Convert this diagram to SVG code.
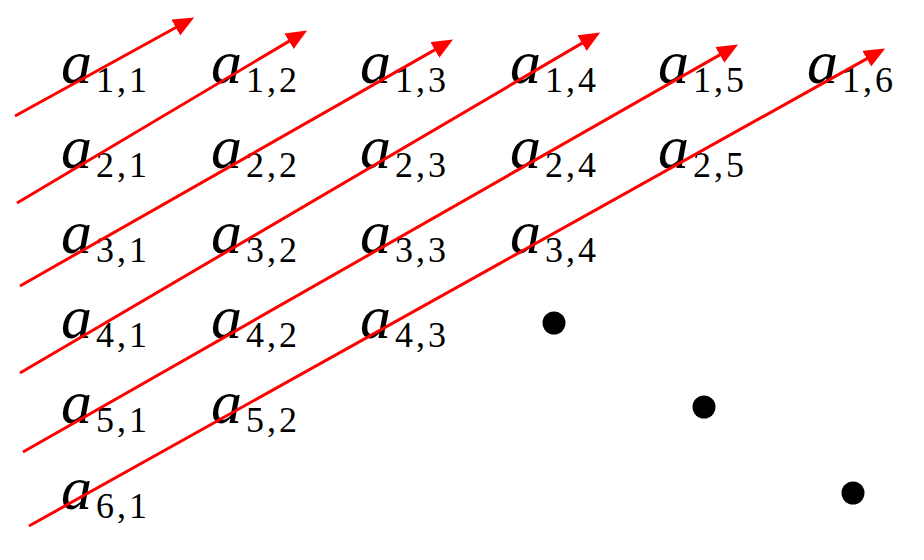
<svg xmlns="http://www.w3.org/2000/svg" width="924" height="560" viewBox="0 0 924 560">
<style>
.a{font-family:"Liberation Serif","Times New Roman",serif;font-style:italic;font-size:62px;fill:#000}
.s{font-family:"Liberation Serif","Times New Roman",serif;font-size:36px;fill:#000}
.arr{stroke:#ff0000;stroke-width:3;fill:none;marker-end:url(#ah)}
.dot{fill:#000}
</style>
<defs>
<marker id="ah" markerUnits="userSpaceOnUse" markerWidth="24" markerHeight="20" refX="11" refY="9" orient="auto" viewBox="0 0 24 20">
<path d="M0,0 L21,9 L0,18 z" fill="#ff0000"/>
</marker>
</defs>
<g id="n11"><text class="a" x="61" y="83">a</text><text class="s" x="96" y="92" textLength="51" lengthAdjust="spacing">1,1</text></g>
<g id="n12"><text class="a" x="211" y="83">a</text><text class="s" x="246" y="92" textLength="51" lengthAdjust="spacing">1,2</text></g>
<g id="n13"><text class="a" x="360" y="83">a</text><text class="s" x="395" y="92" textLength="51" lengthAdjust="spacing">1,3</text></g>
<g id="n14"><text class="a" x="510" y="83">a</text><text class="s" x="545" y="92" textLength="51" lengthAdjust="spacing">1,4</text></g>
<g id="n15"><text class="a" x="658" y="83">a</text><text class="s" x="693" y="92" textLength="51" lengthAdjust="spacing">1,5</text></g>
<g id="n16"><text class="a" x="807" y="83">a</text><text class="s" x="842" y="92" textLength="51" lengthAdjust="spacing">1,6</text></g>
<g id="n21"><text class="a" x="61" y="168">a</text><text class="s" x="96" y="177" textLength="51" lengthAdjust="spacing">2,1</text></g>
<g id="n22"><text class="a" x="211" y="168">a</text><text class="s" x="246" y="177" textLength="51" lengthAdjust="spacing">2,2</text></g>
<g id="n23"><text class="a" x="360" y="168">a</text><text class="s" x="395" y="177" textLength="51" lengthAdjust="spacing">2,3</text></g>
<g id="n24"><text class="a" x="510" y="168">a</text><text class="s" x="545" y="177" textLength="51" lengthAdjust="spacing">2,4</text></g>
<g id="n25"><text class="a" x="658" y="168">a</text><text class="s" x="693" y="177" textLength="51" lengthAdjust="spacing">2,5</text></g>
<g id="n31"><text class="a" x="61" y="253">a</text><text class="s" x="96" y="262" textLength="51" lengthAdjust="spacing">3,1</text></g>
<g id="n32"><text class="a" x="211" y="253">a</text><text class="s" x="246" y="262" textLength="51" lengthAdjust="spacing">3,2</text></g>
<g id="n33"><text class="a" x="360" y="253">a</text><text class="s" x="395" y="262" textLength="51" lengthAdjust="spacing">3,3</text></g>
<g id="n34"><text class="a" x="510" y="253">a</text><text class="s" x="545" y="262" textLength="51" lengthAdjust="spacing">3,4</text></g>
<g id="n41"><text class="a" x="61" y="338">a</text><text class="s" x="96" y="347" textLength="51" lengthAdjust="spacing">4,1</text></g>
<g id="n42"><text class="a" x="211" y="338">a</text><text class="s" x="246" y="347" textLength="51" lengthAdjust="spacing">4,2</text></g>
<g id="n43"><text class="a" x="360" y="338">a</text><text class="s" x="395" y="347" textLength="51" lengthAdjust="spacing">4,3</text></g>
<g id="n51"><text class="a" x="61" y="423">a</text><text class="s" x="96" y="432" textLength="51" lengthAdjust="spacing">5,1</text></g>
<g id="n52"><text class="a" x="211" y="423">a</text><text class="s" x="246" y="432" textLength="51" lengthAdjust="spacing">5,2</text></g>
<g id="n61"><text class="a" x="61" y="509">a</text><text class="s" x="96" y="518" textLength="51" lengthAdjust="spacing">6,1</text></g>
<g id="dots">
<circle class="dot" cx="554" cy="323" r="11.5"/>
<circle class="dot" cx="704" cy="407" r="11.5"/>
<circle class="dot" cx="853" cy="493" r="11.5"/>
</g>
<g id="connectors">
<path class="arr" d="M15,116 L185.4,22.2"/>
<path class="arr" d="M17,203 L298.5,35.6"/>
<path class="arr" d="M20,286 L444.4,44.4"/>
<path class="arr" d="M20,373 L591.5,37.6"/>
<path class="arr" d="M23,452 L729.4,49.4"/>
<path class="arr" d="M29,526 L876.4,53.4"/>
</g>
</svg>
